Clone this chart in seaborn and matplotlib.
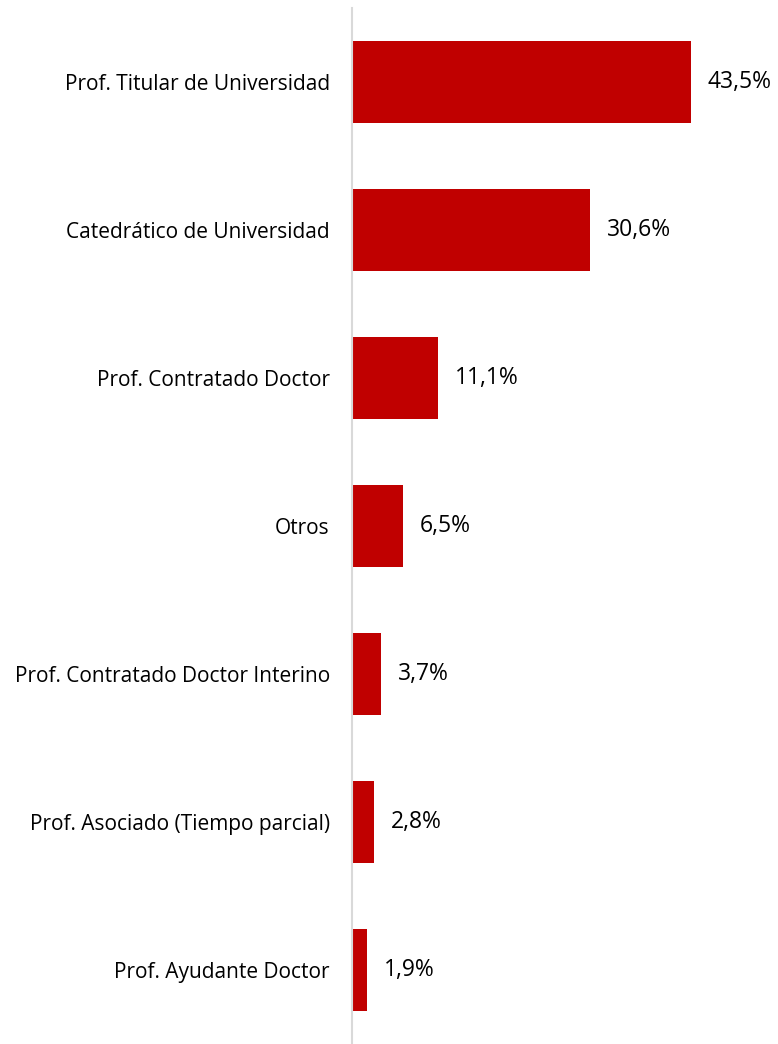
import pandas as pd
import matplotlib.pyplot as plt
import seaborn as sns

# Datos: categorías y porcentajes
categorias = [
    'Prof. Titular de Universidad',
    'Catedrático de Universidad',
    'Prof. Contratado Doctor',
    'Otros',
    'Prof. Contratado Doctor Interino',
    'Prof. Asociado (Tiempo parcial)',
    'Prof. Ayudante Doctor',
]
porcentajes = [43.5, 30.6, 11.1, 6.5, 3.7, 2.8, 1.9]

data = pd.DataFrame({'categoria': categorias, 'pct': porcentajes})

sns.set_theme(style='white')
plt.rcParams['font.family'] = ['Open Sans', 'DejaVu Sans']

fig = plt.figure(figsize=(7.78, 10.44), dpi=100)
ax = fig.add_axes([352 / 778, 0, 1 - 352 / 778, 1 - 8 / 1044])

sns.barplot(data=data, x='pct', y='categoria', color='#C00000',
            width=0.55, saturation=1, linewidth=0, ax=ax)

# Etiquetas de valor al final de cada barra
for p, v in zip(ax.patches, porcentajes):
    ax.annotate(f'{v:.1f}%'.replace('.', ','),
                (p.get_width(), p.get_y() + p.get_height() / 2),
                xytext=(12, 0), textcoords='offset points',
                ha='left', va='center', fontsize=16.5, color='black')

ax.set_xlim(0, 54.7)
ax.set_ylim(6.5, -0.5)
ax.set_xlabel('')
ax.set_ylabel('')
ax.set_xticks([])
ax.tick_params(axis='y', length=0, pad=16, labelsize=15, labelcolor='black')
for s in ['top', 'right', 'bottom']:
    ax.spines[s].set_visible(False)
ax.spines['left'].set_color('#D9D9D9')
ax.spines['left'].set_linewidth(1.5)

plt.savefig('out.png', dpi=100)
